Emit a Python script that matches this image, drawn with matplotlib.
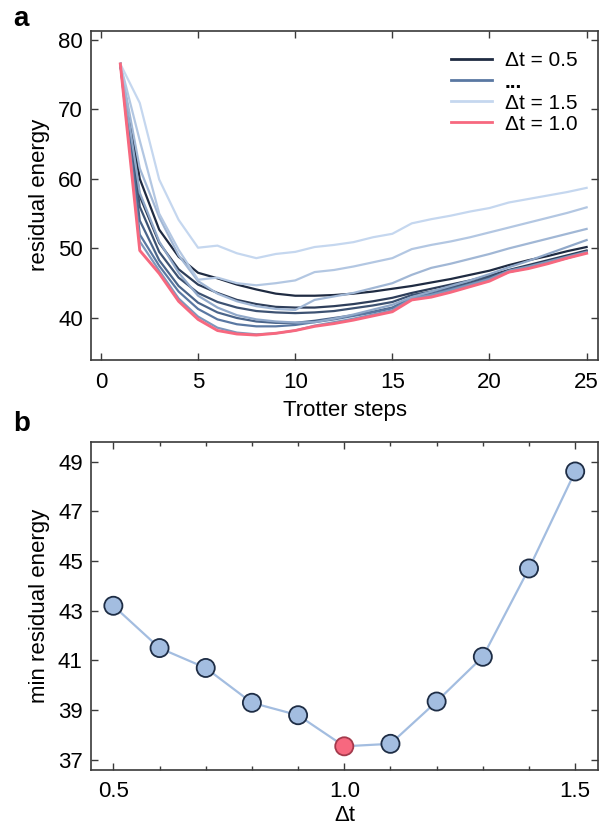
import numpy as np
import matplotlib
matplotlib.use("Agg")
import matplotlib.pyplot as plt
from matplotlib.lines import Line2D
from matplotlib.ticker import MultipleLocator

plt.rcParams['font.family'] = ['Liberation Sans', 'DejaVu Sans']
plt.rcParams['font.size'] = 16

# panel a: residual energy vs Trotter steps for each dt
steps = list(range(1, 26))
dts = [0.5, 0.6, 0.7, 0.8, 0.9, 1.0, 1.1, 1.2, 1.3, 1.4, 1.5]
e_05 = [76.5, 60.0, 52.7, 48.8, 46.5, 45.7, 44.8, 44.1, 43.5, 43.2, 43.2, 43.3, 43.5,
        43.8, 44.2, 44.6, 45.1, 45.6, 46.2, 46.8, 47.6, 48.3, 48.9, 49.6, 50.2]
e_06 = [76.5, 57.5, 50.8, 47.0, 44.8, 43.6, 42.6, 42.0, 41.6, 41.5, 41.5, 41.7, 42.0,
        42.4, 42.9, 43.6, 44.2, 44.8, 45.4, 46.1, 46.9, 47.6, 48.3, 49.0, 49.7]
e_07 = [76.5, 56.0, 49.5, 45.8, 43.6, 42.3, 41.5, 41.0, 40.8, 40.7, 40.8, 41.0, 41.4,
        41.8, 42.3, 43.3, 43.8, 44.4, 45.1, 45.9, 46.8, 47.4, 48.1, 48.8, 49.6]
e_08 = [76.5, 54.0, 48.3, 44.6, 42.2, 40.8, 40.0, 39.5, 39.3, 39.3, 39.6, 40.0, 40.4,
        40.9, 41.5, 42.9, 43.5, 44.2, 44.9, 45.7, 46.7, 47.3, 48.0, 48.7, 49.4]
e_09 = [76.5, 52.0, 47.5, 43.8, 41.3, 39.8, 39.1, 38.8, 38.8, 39.0, 39.4, 39.8, 40.3,
        40.8, 41.4, 42.8, 43.4, 44.1, 44.8, 45.6, 46.6, 47.2, 47.9, 48.6, 49.4]
e_10 = [76.5, 49.7, 46.4, 42.4, 39.8, 38.2, 37.7, 37.55, 37.8, 38.2, 38.8, 39.2, 39.7,
        40.3, 40.9, 42.6, 43.0, 43.7, 44.5, 45.3, 46.6, 47.1, 47.8, 48.6, 49.3]
e_11 = [76.5, 51.0, 46.8, 42.8, 40.2, 38.6, 37.9, 37.65, 37.8, 38.2, 38.9, 39.4, 39.9,
        40.5, 41.1, 42.8, 43.3, 44.0, 44.8, 45.6, 46.8, 47.4, 48.1, 48.8, 49.5]
e_12 = [76.5, 58.0, 51.0, 46.5, 43.2, 41.5, 40.4, 39.8, 39.5, 39.35, 39.4, 39.9, 40.5,
        41.2, 41.9, 43.0, 43.8, 44.6, 45.4, 46.3, 47.3, 48.2, 49.2, 50.2, 51.2]
e_13 = [76.5, 61.5, 54.5, 49.0, 45.3, 43.5, 42.4, 41.7, 41.3, 41.15, 42.6, 43.1, 43.6,
        44.3, 45.0, 46.2, 47.2, 47.8, 48.5, 49.2, 50.0, 50.7, 51.4, 52.1, 52.8]
e_14 = [76.5, 65.5, 55.0, 49.8, 45.5, 45.8, 45.0, 44.7, 45.0, 45.4, 46.6, 46.9, 47.4,
        48.0, 48.6, 49.9, 50.5, 51.0, 51.6, 52.3, 53.0, 53.7, 54.4, 55.1, 55.9]
e_15 = [76.5, 70.9, 59.9, 54.1, 50.1, 50.4, 49.3, 48.6, 49.2, 49.5, 50.2, 50.5, 50.9,
        51.6, 52.1, 53.6, 54.2, 54.7, 55.3, 55.8, 56.6, 57.1, 57.6, 58.1, 58.7]
curves = [e_05, e_06, e_07, e_08, e_09, e_10, e_11, e_12, e_13, e_14, e_15]

# panel b: minimum residual energy vs dt
min_energy = [43.2, 41.5, 40.7, 39.3, 38.8, 37.55, 37.65, 39.35, 41.15, 44.7, 48.6]

dark = np.array([0x1f, 0x2b, 0x42]) / 255
mid = np.array([0x5a, 0x78, 0xa2]) / 255
light = np.array([0xc5, 0xd7, 0xef]) / 255
red = '#f7687f'
frame = '#3a3a3a'


def shade(f):
    # dark -> mid -> light
    if f < 0.4:
        return dark + (mid - dark) * f / 0.4
    return mid + (light - mid) * (f - 0.4) / 0.6


fig = plt.figure(figsize=(6.08, 8.27), dpi=100)
ax1 = fig.add_axes([0.150, 0.565, 0.834, 0.398])
ax2 = fig.add_axes([0.150, 0.069, 0.834, 0.397])

for i, (dt, e) in enumerate(zip(dts, curves)):
    if dt == 1.0:
        continue
    ax1.plot(steps, e, color=shade(i / (len(dts) - 1)), lw=1.6, zorder=2)
ax1.plot(steps, e_10, color=red, lw=2.1, zorder=3)

ax1.set_xlim(-0.5, 25.6)
ax1.set_ylim(34.0, 81.3)
ax1.set_xticks([0, 5, 10, 15, 20, 25])
ax1.set_yticks([40, 50, 60, 70, 80])
ax1.set_xlabel('Trotter steps', labelpad=5)
ax1.set_ylabel('residual energy', labelpad=6)

handles = [Line2D([], [], color=shade(0.0), lw=2),
           Line2D([], [], color=shade(0.4), lw=2),
           Line2D([], [], color=shade(1.0), lw=2),
           Line2D([], [], color=red, lw=2)]
labels = ['Δt = 0.5', '...', 'Δt = 1.5', 'Δt = 1.0']
leg = ax1.legend(handles, labels, loc='upper right', frameon=False, fontsize=15,
                 handlelength=2.0, handletextpad=0.6, labelspacing=0.1,
                 borderaxespad=0.6)
leg.get_texts()[1].set_fontweight('bold')

ax2.plot(dts, min_energy, color='#a3bde0', lw=1.6, zorder=2)
cols = [red if d == 1.0 else '#a3bde0' for d in dts]
edges = ['#a33a4c' if d == 1.0 else '#1e2d45' for d in dts]
ax2.scatter(dts, min_energy, s=170, c=cols, edgecolors=edges, linewidths=1.3, zorder=3)
ax2.set_xlim(0.452, 1.55)
ax2.set_ylim(36.6, 49.8)
ax2.set_xticks([0.5, 1.0, 1.5])
ax2.set_xticklabels(['0.5', '1.0', '1.5'])
ax2.xaxis.set_minor_locator(MultipleLocator(0.1))
ax2.set_yticks([37, 39, 41, 43, 45, 47, 49])
ax2.set_xlabel('Δt', labelpad=2)
ax2.set_ylabel('min residual energy', labelpad=6)

for ax in (ax1, ax2):
    ax.tick_params(which='both', direction='in', top=True, right=True,
                   color=frame, labelsize=16, pad=6)
    ax.tick_params(which='major', length=5, width=1)
    ax.tick_params(which='minor', length=3, width=1)
    for s in ax.spines.values():
        s.set_color(frame)
        s.set_linewidth(1.2)
ax1.tick_params(axis='x', pad=9)
ax2.tick_params(axis='x', pad=8)

fig.text(0.022, 0.977, 'a', fontsize=20, fontweight='bold', va='center')
fig.text(0.022, 0.487, 'b', fontsize=20, fontweight='bold', va='center')

fig.savefig('out.png', dpi=100)
